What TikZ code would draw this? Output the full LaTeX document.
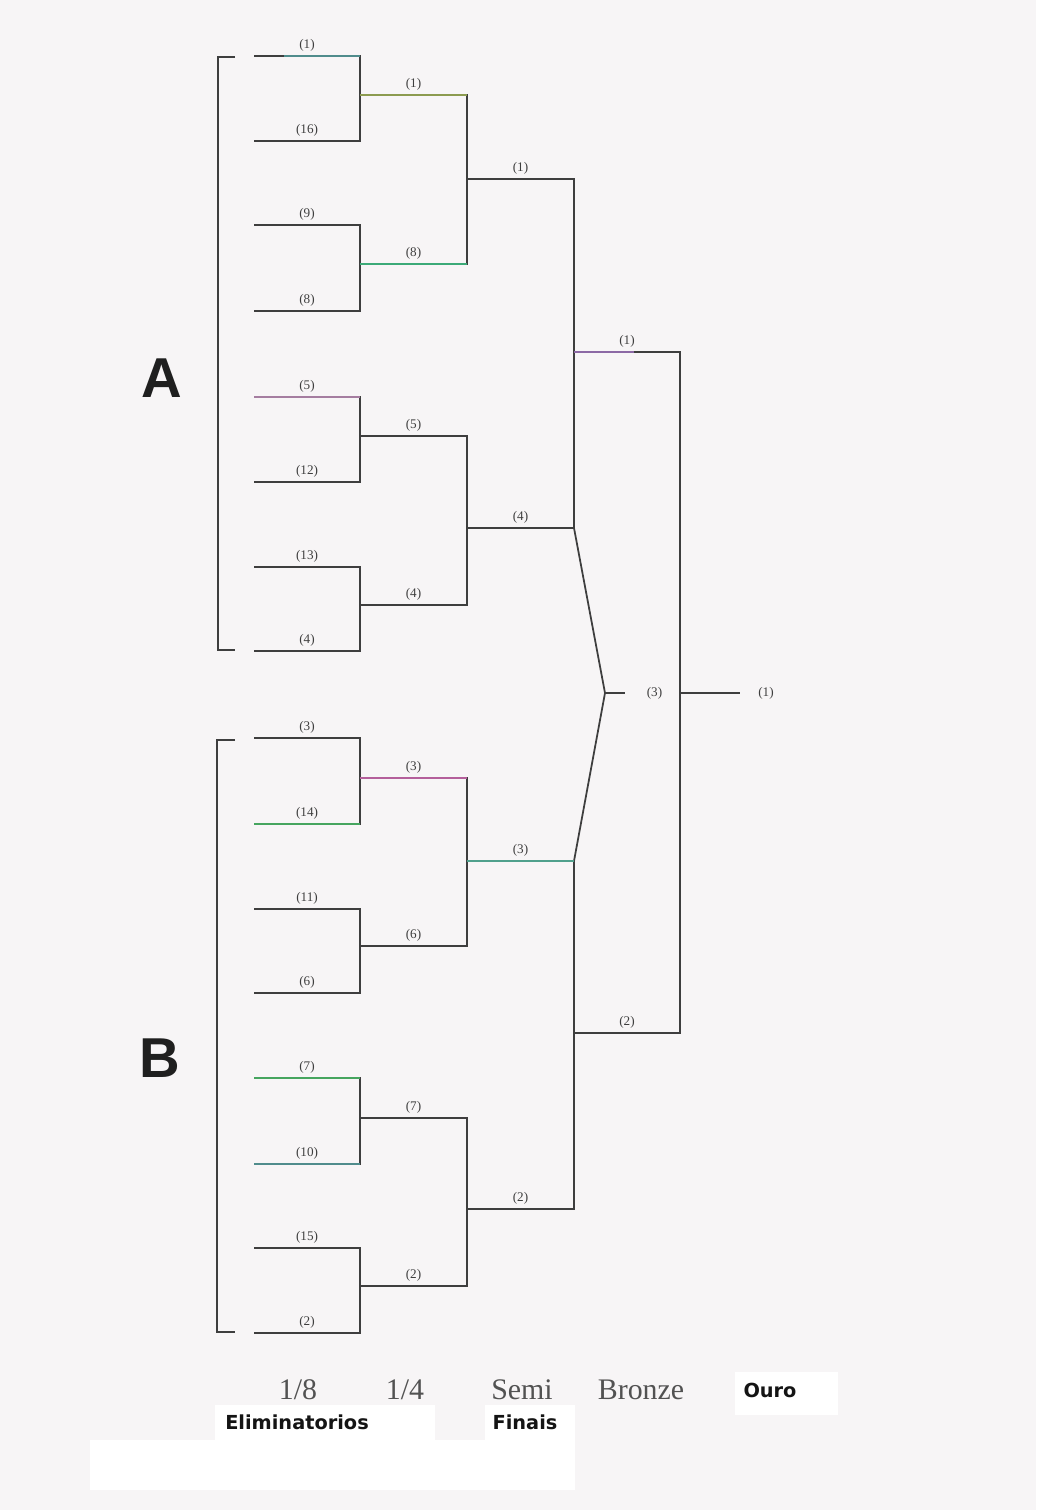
\documentclass[tikz,border=0pt]{standalone}
\usepackage{fontspec}
\setmainfont{Liberation Serif}
\newfontfamily\grupofont{Liberation Sans}
\newfontfamily\fasefont{DejaVu Sans}
\usepackage{xcolor}
\usepackage{tikz}
\usetikzlibrary{positioning}

\definecolor{fundo}{RGB}{247,245,246}
\definecolor{traco}{RGB}{62,62,62}
\definecolor{tealclaro}{RGB}{80,140,140}
\definecolor{oliva}{RGB}{140,155,80}
\definecolor{verde}{RGB}{60,170,120}
\definecolor{verdeB}{RGB}{70,165,95}
\definecolor{malva}{RGB}{165,125,160}
\definecolor{roxo}{RGB}{140,105,165}
\definecolor{magenta}{RGB}{180,95,155}
\definecolor{verdeagua}{RGB}{80,160,140}

\begin{document}
\begin{tikzpicture}[
    x=0.02cm, y=-0.02cm,
    jogo/.style={draw=traco, line width=1pt},
    cor/.style={line width=1.1pt},
    lab/.style={above, font=\fontsize{7.5}{8}\selectfont, text=traco, inner sep=2pt},
    labd/.style={right, font=\fontsize{7.5}{8}\selectfont, text=traco, inner sep=0pt},
    grupo/.style={font=\grupofont\bfseries\fontsize{32}{36}\selectfont, text=black!88},
    fase/.style={font=\fontsize{17}{20}\selectfont, text=black!68, inner sep=0pt},
    subfase/.style={font=\fasefont\bfseries\fontsize{11}{13}\selectfont, text=black!92, inner sep=0pt}
]
% ============== Fundo ==============
\useasboundingbox (0,0) rectangle (1036,1510);
\fill[fundo] (0,0) rectangle (1036,1510);
\fill[white] (215,1405) rectangle (435,1440);
\fill[white] (485,1405) rectangle (575,1440);
\fill[white] (90,1440) rectangle (575,1490);
\fill[white] (735,1372) rectangle (838,1415);

% ============== Coordenadas (extremos esquerdos) ==============
\coordinate (e1) at (254,56);   \coordinate (e16) at (254,141);
\coordinate (e9) at (254,225);  \coordinate (e8) at (254,311);
\coordinate (e5) at (254,397);  \coordinate (e12) at (254,482);
\coordinate (e13) at (254,567); \coordinate (e4) at (254,651);
\coordinate (e3) at (254,738);  \coordinate (e14) at (254,824);
\coordinate (e11) at (254,909); \coordinate (e6) at (254,993);
\coordinate (e7) at (254,1078); \coordinate (e10) at (254,1164);
\coordinate (e15) at (254,1248); \coordinate (e2) at (254,1333);

\coordinate (q1) at (360,95);   \coordinate (q8) at (360,264);
\coordinate (q5) at (360,436);  \coordinate (q4) at (360,605);
\coordinate (q3) at (360,778);  \coordinate (q6) at (360,946);
\coordinate (q7) at (360,1118); \coordinate (q2) at (360,1286);

\coordinate (s1) at (467,179);  \coordinate (s4) at (467,528);
\coordinate (s3) at (467,861);  \coordinate (s2) at (467,1209);
\coordinate (cA) at (574,528);  \coordinate (cB) at (574,861);

\coordinate (b1) at (574,352);  \coordinate (b2) at (574,1033);
\coordinate (bz) at (605,693);
\coordinate (o1) at (680,693);

% ============== Grupos ==============
\node[grupo] (gA) at (162,378) {A};
\node[grupo] (gB) at (160,1058) {B};
\draw[jogo] (e1) ++(-19,1) coordinate (gA1) -- ++(-17,0) |- ++(17,593) coordinate (gA2);
\draw[jogo] (e3) ++(-19,2) coordinate (gB1) -- ++(-18,0) |- ++(18,592) coordinate (gB2);

% ============== 1/8 (Eliminatorios) ==============
\draw[jogo] (e1) -- node[lab] (le1) {(1)} ++(106,0) |- node[lab, pos=0.75] (le16) {(16)} (e16);
\draw[jogo] (e9) -- node[lab] (le9) {(9)} ++(106,0) |- node[lab, pos=0.75] (le8) {(8)} (e8);
\draw[jogo] (e5) -- node[lab] (le5) {(5)} ++(106,0) |- node[lab, pos=0.75] (le12) {(12)} (e12);
\draw[jogo] (e13) -- node[lab] (le13) {(13)} ++(106,0) |- node[lab, pos=0.75] (le4) {(4)} (e4);
\draw[jogo] (e3) -- node[lab] (le3) {(3)} ++(106,0) |- node[lab, pos=0.75] (le14) {(14)} (e14);
\draw[jogo] (e11) -- node[lab] (le11) {(11)} ++(106,0) |- node[lab, pos=0.75] (le6) {(6)} (e6);
\draw[jogo] (e7) -- node[lab] (le7) {(7)} ++(106,0) |- node[lab, pos=0.75] (le10) {(10)} (e10);
\draw[jogo] (e15) -- node[lab] (le15) {(15)} ++(106,0) |- node[lab, pos=0.75] (le2) {(2)} (e2);

% ============== 1/4 ==============
\draw[jogo] (q1) -- node[lab] (lq1) {(1)} ++(107,0) |- node[lab, pos=0.75] (lq8) {(8)} (q8);
\draw[jogo] (q5) -- node[lab] (lq5) {(5)} ++(107,0) |- node[lab, pos=0.75] (lq4) {(4)} (q4);
\draw[jogo] (q3) -- node[lab] (lq3) {(3)} ++(107,0) |- node[lab, pos=0.75] (lq6) {(6)} (q6);
\draw[jogo] (q7) -- node[lab] (lq7) {(7)} ++(107,0) |- node[lab, pos=0.75] (lq2) {(2)} (q2);

% ============== Semi Finais ==============
\draw[jogo] (s1) -- node[lab] (ls1) {(1)} ++(107,0) |- node[lab, pos=0.75] (ls4) {(4)} (s4);
\draw[jogo] (s3) -- node[lab] (ls3) {(3)} ++(107,0) |- node[lab, pos=0.75] (ls2) {(2)} (s2);

% ============== Bronze ==============
\draw[jogo] (b1) -- node[lab] (lb1) {(1)} ++(106,0) |- node[lab, pos=0.75] (lb2) {(2)} (b2);
\draw[jogo] (cA) -- (bz) -- (cB);
\draw[jogo, line width=0.8pt] (bz) -- ++(20,0) node[labd, right=12pt] (lb3) {(3)};

% ============== Ouro ==============
\draw[jogo, line width=0.8pt] (o1) -- ++(60,0) node[labd, right=10pt] (lo1) {(1)};

% ============== Tracos coloridos ==============
\draw[cor, tealclaro] (e1) ++(30,0) -- ++(76,0);
\draw[cor, oliva] (q1) -- ++(107,0);
\draw[cor, verde] (q8) -- ++(107,0);
\draw[cor, malva] (e5) -- ++(106,0);
\draw[cor, roxo] (b1) -- ++(60,0);
\draw[cor, verdeB] (e14) -- ++(106,0);
\draw[cor, magenta] (q3) -- ++(107,0);
\draw[cor, verdeagua] (s3) -- ++(107,0);
\draw[cor, verdeB] (e7) -- ++(106,0);
\draw[cor, tealclaro] (e10) -- ++(106,0);

% ============== Fases ==============
\node[fase] (f18) at (298,1390) {1/8};
\node[fase] (f14) at (405,1390) {1/4};
\node[fase] (fsemi) at (522,1390) {Semi};
\node[fase] (fbronze) at (641,1390) {Bronze};
\node[subfase] (fouro) at (770,1390) {Ouro};
\node[subfase] (felim) at (297,1422) {Eliminatorios};
\node[subfase] (ffinais) at (525,1422) {Finais};
\end{tikzpicture}
\end{document}
